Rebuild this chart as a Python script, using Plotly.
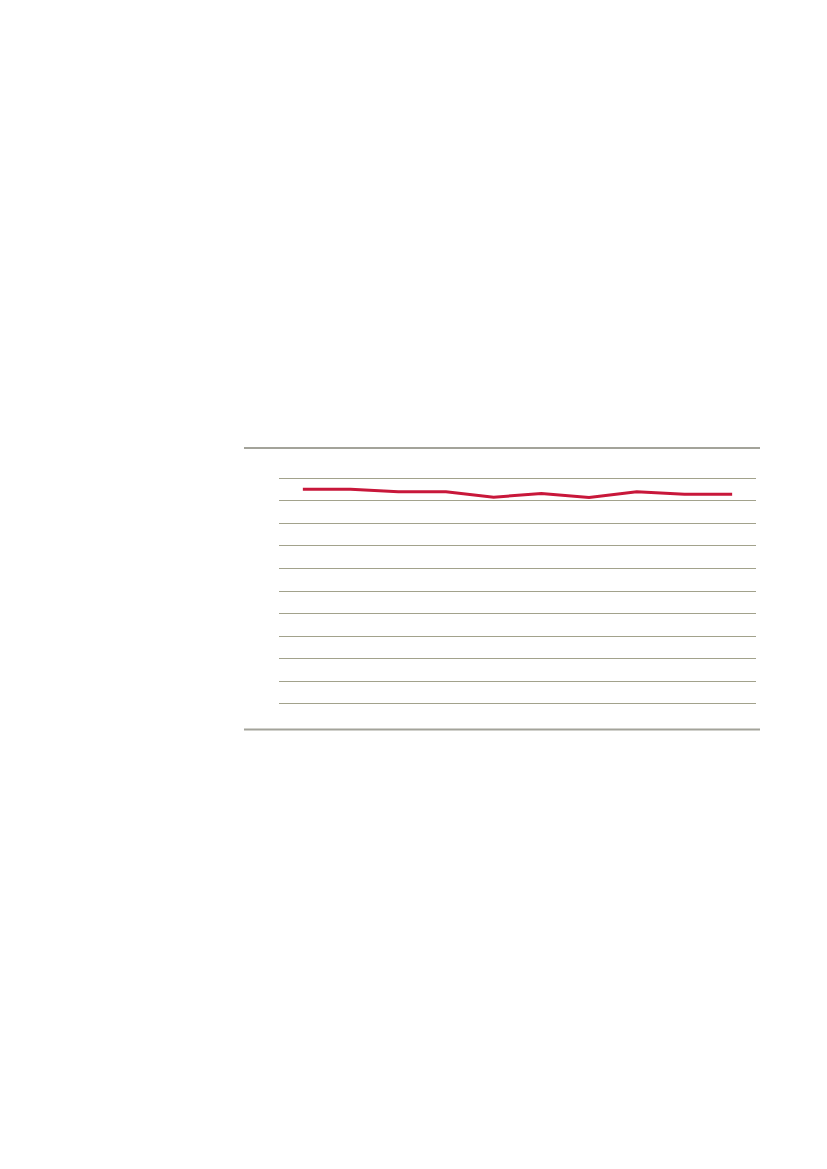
import plotly.graph_objects as go

# data (y axis 0-100, gridline every 10)
periods = list(range(10))
values = [95.1, 95.1, 94.0, 94.0, 91.6, 93.2, 91.5, 94.0, 92.9, 92.9]

fig = go.Figure(go.Scatter(
    x=periods,
    y=values,
    mode="lines",
    line=dict(color="#c8173a", width=3),
    hoverinfo="skip",
))

# rules above and below the chart area
for y in (1.1222, -0.1022):
    fig.add_shape(
        type="line", xref="paper", yref="paper",
        x0=-0.0734, x1=1.0084, y0=y, y1=y,
        line=dict(color="#a3a39a", width=2),
    )

fig.update_layout(
    width=827, height=1169,
    margin=dict(l=271, r=79, t=468, b=471),
    paper_bgcolor="white", plot_bgcolor="white",
    showlegend=False,
)
fig.update_xaxes(range=[-0.5, 9.5], showgrid=False, zeroline=False,
                 showticklabels=False, showline=False, ticks="")
fig.update_yaxes(range=[-1, 101], dtick=10, tick0=0, showgrid=True,
                 gridcolor="#a2a28c", gridwidth=1, zeroline=False,
                 showticklabels=False, showline=False, ticks="")

fig.write_html("out.html")
